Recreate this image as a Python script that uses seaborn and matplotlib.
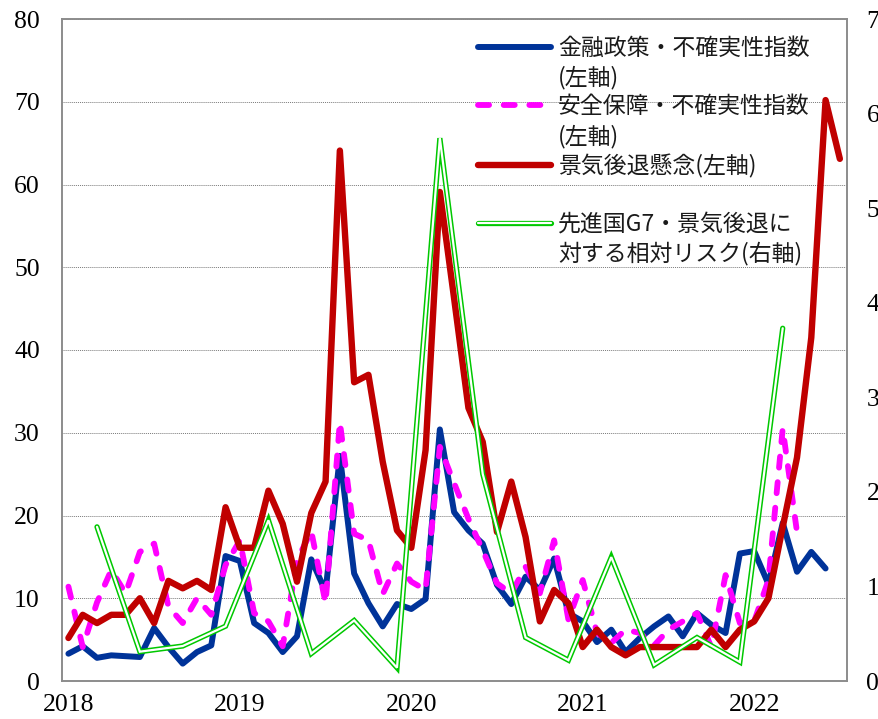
import numpy as np
import pandas as pd
import matplotlib
matplotlib.use("Agg")
import matplotlib.pyplot as plt
import matplotlib.patheffects as pe
from matplotlib.lines import Line2D
import seaborn as sns

# ---------------- data ----------------
months = pd.period_range("2018-01", "2022-07", freq="M")
month_idx = list(range(len(months)))          # 0 .. 54
year_tick_pos = [0, 12, 24, 36, 48]
year_labels = ["2018", "2019", "2020", "2021", "2022"]

# 金融政策・不確実性指数 (2018-01 .. 2022-06)
monetary = [3.3, 4.2, 2.8, 3.1, 3.0, 2.9, 6.4, 4.1, 2.1, 3.5, 4.3, 15.1,
            14.5, 7.0, 5.8, 3.5, 5.4, 14.7, 10.8, 27.2, 13.0, 9.4, 6.6, 9.3,
            8.7, 9.9, 30.4, 20.4, 18.2, 16.6, 11.6, 9.3, 12.6, 11.0, 14.8, 8.2,
            7.2, 4.7, 6.2, 3.5, 5.2, 6.6, 7.8, 5.4, 8.2, 6.8, 5.8, 15.4,
            15.7, 11.7, 19.1, 13.2, 15.6, 13.6]

# 安全保障・不確実性指数 (2018-01 .. 2022-04)
security = [11.4, 4.1, 9.5, 13.4, 10.6, 15.6, 16.6, 9.0, 7.0, 10.0, 8.0, 14.0,
            17.0, 8.2, 7.2, 4.2, 14.6, 18.1, 9.4, 31.3, 17.8, 17.0, 10.5, 14.2,
            12.0, 11.0, 28.3, 23.9, 19.6, 15.8, 11.8, 10.6, 13.8, 10.6, 17.0, 7.4,
            12.2, 5.8, 4.6, 6.2, 5.8, 4.3, 6.2, 7.2, 8.2, 4.1, 12.8, 7.0,
            7.2, 12.2, 30.5, 18.0]

# 景気後退懸念 (2018-01 .. 2022-07)
recession = [5.2, 8.0, 7.0, 8.0, 8.0, 10.0, 7.0, 12.1, 11.2, 12.1, 11.0, 21.0,
             16.1, 16.1, 23.0, 19.0, 12.0, 20.3, 24.1, 64.1, 36.1, 37.0, 26.5, 18.2,
             16.1, 27.9, 59.1, 46.2, 33.0, 28.9, 18.0, 24.1, 17.4, 7.2, 11.0, 9.4,
             4.1, 6.2, 4.1, 3.1, 4.1, 4.1, 4.1, 4.1, 4.1, 6.2, 4.1, 6.2,
             7.2, 10.0, 18.6, 27.0, 41.5, 70.2, 63.1]

# 先進国G7・景気後退に対する相対リスク (quarterly, right axis)
g7_month_idx = [2, 5, 8, 11, 14, 17, 20, 23, 26, 29, 32, 35, 38, 41, 44, 47, 50]
g7_risk = [1.63, 0.31, 0.37, 0.58, 1.70, 0.29, 0.64, 0.14, 5.74, 2.19, 0.46,
           0.22, 1.31, 0.17, 0.46, 0.20, 3.73]

left_ticks = list(range(0, 81, 10))
right_ticks = list(range(0, 8))

labels = ["金融政策・不確実性指数", "(左軸)",
          "安全保障・不確実性指数", "(左軸)",
          "景気後退懸念(左軸)", "",
          "先進国G7・景気後退に", "対する相対リスク(右軸)"]

# ---------------- style ----------------
sns.set_style("white")
plt.rcParams["font.family"] = ["Liberation Serif", "Noto Sans CJK JP", "DejaVu Sans"]
jp_font = ["Noto Sans CJK JP", "DejaVu Sans"]

BLUE = "#003399"
PINK = "#FF00FF"
RED = "#C00000"
GREEN = "#00C800"
GRAY = "#8C8C8C"

W, H = 879, 719
fig = plt.figure(figsize=(W / 100, H / 100), dpi=100)
ax = fig.add_axes([62 / W, 1 - 681 / H, (847 - 62) / W, (681 - 19) / H])

df_m = pd.DataFrame({"m": month_idx[:len(monetary)], "v": monetary})
df_s = pd.DataFrame({"m": month_idx[:len(security)], "v": security})
df_r = pd.DataFrame({"m": month_idx[:len(recession)], "v": recession})
df_g = pd.DataFrame({"m": g7_month_idx, "v": g7_risk})

common = dict(estimator=None, sort=False, legend=False)
sns.lineplot(data=df_m, x="m", y="v", ax=ax, color=BLUE, lw=4.3,
             solid_capstyle="round", solid_joinstyle="round", **common)
sns.lineplot(data=df_s, x="m", y="v", ax=ax, color=PINK, lw=4.2,
             linestyle=(0, (1.9, 2.5)), dash_capstyle="round",
             dash_joinstyle="round", **common)
sns.lineplot(data=df_r, x="m", y="v", ax=ax, color=RED, lw=4.6,
             solid_capstyle="round", solid_joinstyle="round", **common)

ax.set_xlim(-0.45, 54.5)
ax.set_ylim(0, 80)
ax.set_yticks(left_ticks)
ax.set_yticklabels([str(t) for t in left_ticks])
ax.set_xticks(year_tick_pos)
ax.set_xticklabels(year_labels)
ax.set_xlabel("")
ax.set_ylabel("")
ax.grid(axis="y", color="#7a7a7a", linestyle=(0, (1, 1)), linewidth=0.7)
ax.grid(axis="x", visible=False)
ax.tick_params(axis="both", length=0, labelsize=18.5, colors="black")
ax.tick_params(axis="y", pad=16)
ax.tick_params(axis="x", pad=9.5)

ax2 = ax.twinx()
sns.lineplot(data=df_g, x="m", y="v", ax=ax2, color="white", lw=1.6,
             solid_capstyle="round", solid_joinstyle="miter", **common)
for ln in ax2.get_lines():
    ln.set_path_effects([pe.Stroke(linewidth=3.8, foreground=GREEN), pe.Normal()])
ax2.set_ylim(0, 7)
ax2.set_yticks(right_ticks)
ax2.set_yticklabels([str(t) for t in right_ticks])
ax2.set_ylabel("")
ax2.tick_params(axis="y", length=0, labelsize=18.5, pad=14, colors="black")
ax2.grid(False)

for a in (ax, ax2):
    for s in a.spines.values():
        s.set_color(GRAY)
        s.set_linewidth(1.2)
        s.set_visible(True)

# ---------------- legend ----------------
blank = Line2D([], [], linestyle="none")
h_blue = ax.get_lines()[0]
h_pink = ax.get_lines()[1]
h_red = ax.get_lines()[2]
h_green = ax2.get_lines()[0]
handles = [h_blue, blank, h_pink, blank, h_red, blank, h_green, blank]
leg = ax2.legend(handles, labels, loc="upper left",
                 bbox_to_anchor=(478 / W, 1 - 37 / H),
                 bbox_transform=fig.transFigure,
                 frameon=False, borderpad=0, borderaxespad=0,
                 handlelength=3.2, handletextpad=0.3, labelspacing=0.255,
                 prop={"family": jp_font, "size": 16.5})
for t in leg.get_texts():
    t.set_color("#1a1a1a")

fig.savefig("out.png", dpi=100, facecolor="white")
